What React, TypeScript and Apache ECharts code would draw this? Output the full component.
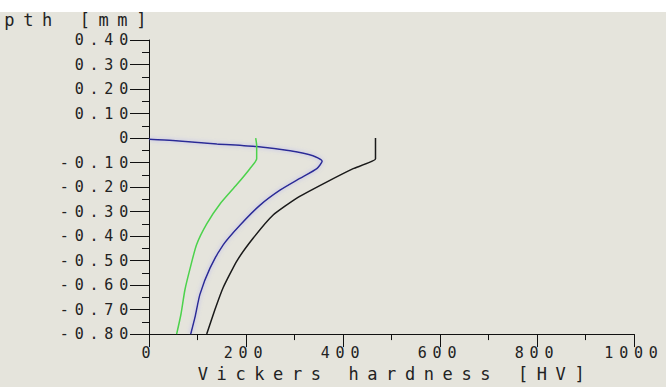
import React, { useEffect, useRef } from 'react';
import * as echarts from 'echarts';

const xTickValues = [0, 200, 400, 600, 800, 1000];
const yTickValues = [0.4, 0.3, 0.2, 0.1, 0, -0.1, -0.2, -0.3, -0.4, -0.5, -0.6, -0.7, -0.8];

const blueHV = [0, 49, 140, 222, 291, 338, 357, 346, 311, 270, 229, 188, 153, 126, 105, 95, 86];
const blueDepth = [-0.005, -0.01, -0.024, -0.035, -0.052, -0.072, -0.095, -0.125, -0.165, -0.213, -0.274, -0.355, -0.436, -0.53, -0.638, -0.73, -0.8];

const greenHV = [220, 222, 222, 208, 181, 146, 119, 98, 85, 74, 66, 57];
const greenDepth = [0, -0.03, -0.085, -0.125, -0.19, -0.27, -0.35, -0.435, -0.53, -0.62, -0.718, -0.8];

const blackHV = [467, 467, 421, 366, 304, 256, 215, 181, 153, 136, 119];
const blackDepth = [0, -0.085, -0.125, -0.18, -0.246, -0.314, -0.408, -0.502, -0.61, -0.7, -0.8];

const pairs = (xs: number[], ys: number[]) => xs.map((x, i) => [x, ys[i]]);

export default function App() {
  const ref = useRef<HTMLDivElement>(null);
  useEffect(() => {
    const chart = echarts.init(ref.current!, null, { renderer: 'svg' });
    const axisColor = '#111';
    const textColor = '#222';
    const font = 'DejaVu Sans Mono';
    chart.setOption({
      animation: false,
      backgroundColor: 'transparent',
      grid: { left: 149, right: 32, top: 40, bottom: 50, containLabel: false },
      xAxis: {
        type: 'value',
        min: xTickValues[0],
        max: xTickValues[xTickValues.length - 1],
        interval: 200,
        name: 'Vickers hardness [HV]',
        nameLocation: 'middle',
        nameGap: 30,
        nameTextStyle: { fontFamily: font, fontSize: 17, color: textColor, padding: [0, 0, 0, 8] },
        axisLine: { show: true, onZero: false, lineStyle: { color: axisColor, width: 1 } },
        axisTick: { show: true, length: 13, lineStyle: { color: axisColor, width: 1 } },
        minorTick: { show: true, splitNumber: 2, length: 6, lineStyle: { color: axisColor, width: 1 } },
        splitLine: { show: false },
        minorSplitLine: { show: false },
        axisLabel: {
          color: textColor,
          fontFamily: font,
          fontSize: 15,
          margin: 11,
          showMinLabel: true,
          showMaxLabel: true,
          formatter: (v: number) => String(Math.round(v)),
        },
      },
      yAxis: {
        type: 'value',
        min: yTickValues[yTickValues.length - 1],
        max: yTickValues[0],
        interval: 0.1,
        name: 'Depth [mm]',
        nameLocation: 'end',
        nameGap: 20,
        nameTextStyle: { fontFamily: font, fontSize: 17, color: textColor, align: 'right', verticalAlign: 'middle', padding: [0, -6, 0, 0] },
        axisLine: { show: true, onZero: false, lineStyle: { color: axisColor, width: 1 } },
        axisTick: { show: true, length: 19, lineStyle: { color: axisColor, width: 1 } },
        minorTick: { show: true, splitNumber: 2, length: 7, lineStyle: { color: axisColor, width: 1 } },
        splitLine: { show: false },
        minorSplitLine: { show: false },
        axisLabel: {
          color: textColor,
          fontFamily: font,
          fontSize: 15,
          margin: 15,
          formatter: (v: number) => (Math.abs(v) < 1e-9 ? '0' : v.toFixed(2)),
        },
      },
      series: [
        {
          type: 'line',
          data: pairs(blueHV, blueDepth),
          showSymbol: false,
          symbol: 'none',
          smooth: 0.2,
          lineStyle: { color: '#2a2a96', width: 1.5, shadowColor: 'rgba(140,140,255,0.6)', shadowBlur: 4 },
        },
        {
          type: 'line',
          data: pairs(greenHV, greenDepth),
          showSymbol: false,
          symbol: 'none',
          smooth: 0.2,
          lineStyle: { color: '#4cd24c', width: 1.5 },
        },
        {
          type: 'line',
          data: pairs(blackHV, blackDepth),
          showSymbol: false,
          symbol: 'none',
          smooth: 0.15,
          lineStyle: { color: '#1a1a1a', width: 1.5 },
        },
      ],
    });
    return () => chart.dispose();
  }, []);
  return (
    <>
      <style>{`
        body { margin: 0; }
        .hv-chart text[style*="15px"] { letter-spacing: 5.8px; }
        .hv-chart text[style*="17px"] { letter-spacing: 8.6px; }
      `}</style>
      <div
        ref={ref}
        className="hv-chart"
        style={{
          position: 'fixed',
          left: 0,
          top: 0,
          width: 666,
          height: 387,
          background: 'linear-gradient(#ffffff 0px, #ffffff 12px, #e5e4dc 12px, #e5e4dc 100%)',
        }}
      />
    </>
  );
}
